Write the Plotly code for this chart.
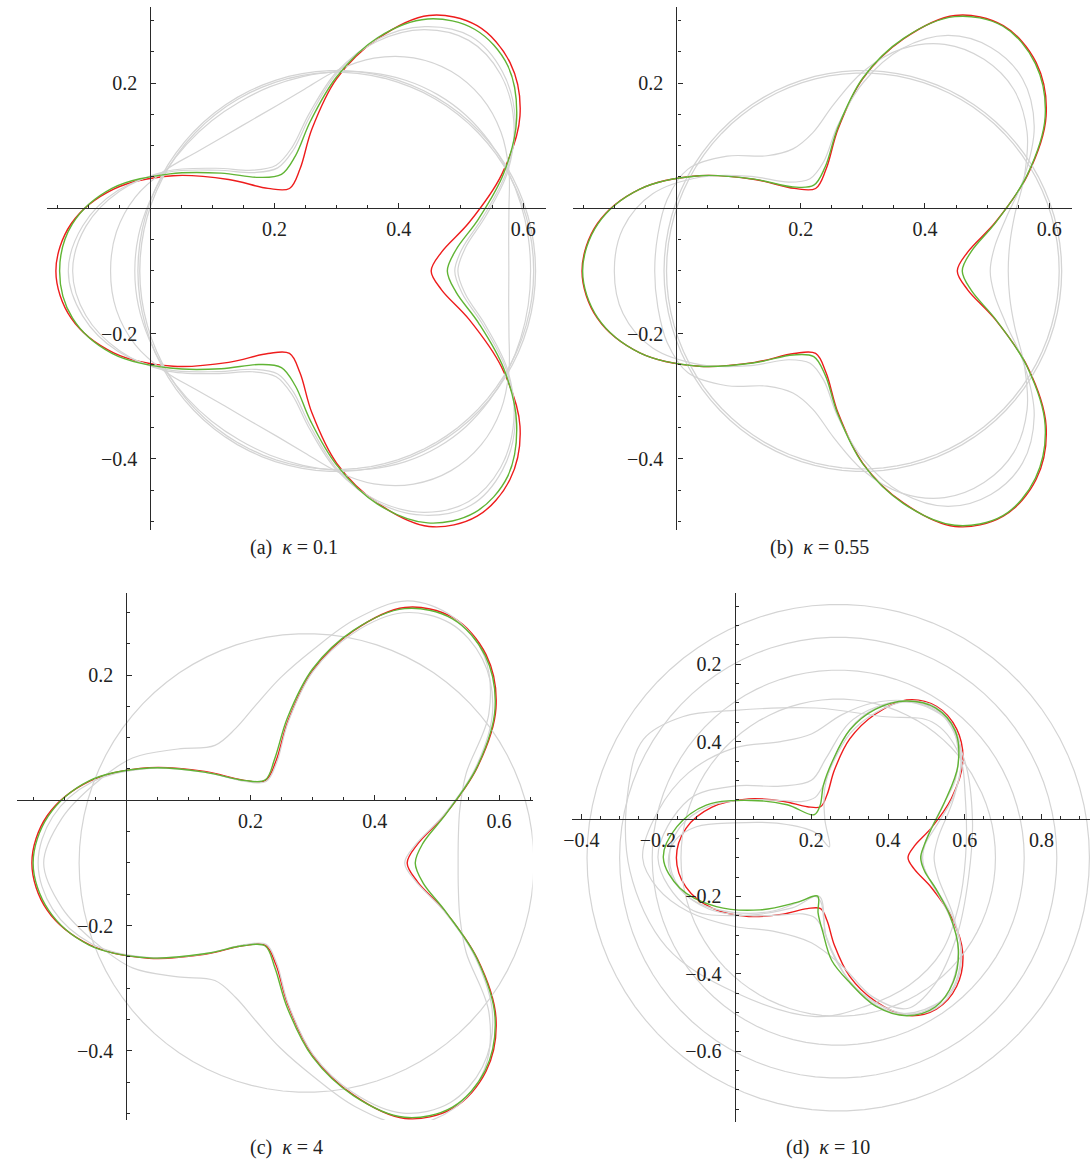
import numpy as np
import plotly.graph_objects as go

W, H = 1092, 1164

# ---------------- data ----------------
# closed trefoil-like curves: radii (data units) at these angles around CENTRE
ANGLES = list(range(0, 360, 10))
CENTRE = (0.30, -0.10)

RED_R = [0.152, 0.171, 0.227, 0.306, 0.385, 0.434, 0.452, 0.434, 0.376, 0.307, 0.230, 0.173,
         0.152, 0.172, 0.227, 0.304, 0.382, 0.434, 0.452, 0.434, 0.382, 0.304, 0.227, 0.172,
         0.152, 0.173, 0.230, 0.307, 0.376, 0.434, 0.452, 0.434, 0.385, 0.306, 0.227, 0.171]

GREEN_A_R = [0.178, 0.195, 0.243, 0.310, 0.378, 0.428, 0.445, 0.428, 0.378, 0.310, 0.243, 0.195,
             0.178, 0.195, 0.243, 0.310, 0.385, 0.432, 0.446, 0.432, 0.385, 0.310, 0.243, 0.195,
             0.178, 0.195, 0.243, 0.310, 0.378, 0.428, 0.445, 0.428, 0.378, 0.310, 0.243, 0.195]
GREEN_B_R = [0.160, 0.177, 0.228, 0.305, 0.383, 0.432, 0.451, 0.432, 0.377, 0.308, 0.232, 0.177,
             0.158, 0.175, 0.228, 0.304, 0.382, 0.433, 0.451, 0.433, 0.382, 0.304, 0.228, 0.175,
             0.158, 0.177, 0.232, 0.308, 0.377, 0.432, 0.451, 0.432, 0.383, 0.305, 0.228, 0.177]
GREEN_C_R = [0.165, 0.180, 0.228, 0.305, 0.383, 0.432, 0.450, 0.432, 0.377, 0.310, 0.235, 0.178,
             0.153, 0.172, 0.225, 0.303, 0.383, 0.432, 0.450, 0.432, 0.383, 0.303, 0.225, 0.172,
             0.153, 0.178, 0.235, 0.310, 0.377, 0.432, 0.450, 0.432, 0.383, 0.305, 0.228, 0.180]
GREEN_D_R = [0.185, 0.198, 0.228, 0.285, 0.368, 0.428, 0.447, 0.431, 0.390, 0.330, 0.255, 0.200,
             0.155, 0.145, 0.213, 0.296, 0.398, 0.458, 0.486, 0.450, 0.370, 0.270, 0.180, 0.130,
             0.165, 0.205, 0.270, 0.323, 0.390, 0.435, 0.446, 0.420, 0.370, 0.302, 0.240, 0.198]

# grey iterates, panel (a)
GREY_A = [
    [0.190, 0.205, 0.250, 0.315, 0.375, 0.415, 0.432, 0.415, 0.375, 0.315, 0.250, 0.205,
     0.190, 0.205, 0.250, 0.315, 0.375, 0.415, 0.432, 0.415, 0.375, 0.315, 0.250, 0.205,
     0.190, 0.205, 0.250, 0.315, 0.375, 0.415, 0.432, 0.415, 0.375, 0.315, 0.250, 0.205],
    [0.195, 0.210, 0.255, 0.318, 0.372, 0.410, 0.425, 0.410, 0.372, 0.318, 0.255, 0.210,
     0.195, 0.210, 0.255, 0.318, 0.372, 0.410, 0.425, 0.410, 0.372, 0.318, 0.255, 0.210,
     0.195, 0.210, 0.255, 0.318, 0.372, 0.410, 0.425, 0.410, 0.372, 0.318, 0.255, 0.210],
    [0.277, 0.281, 0.295, 0.320, 0.345, 0.362, 0.368, 0.362, 0.345, 0.320, 0.295, 0.281,
     0.277, 0.281, 0.295, 0.320, 0.345, 0.360, 0.364, 0.360, 0.345, 0.320, 0.295, 0.281,
     0.277, 0.281, 0.295, 0.320, 0.345, 0.362, 0.368, 0.362, 0.345, 0.320, 0.295, 0.281],
    [0.312, 0.313, 0.315, 0.318, 0.321, 0.324, 0.325, 0.324, 0.321, 0.318, 0.315, 0.313,
     0.312, 0.313, 0.315, 0.318, 0.321, 0.324, 0.325, 0.324, 0.321, 0.318, 0.315, 0.313,
     0.312, 0.313, 0.315, 0.318, 0.321, 0.324, 0.325, 0.324, 0.321, 0.318, 0.315, 0.313],
]
CIRCLES_A = [0.320, 0.317]

# grey iterates, panel (b)
GREY_B = [
    [0.205, 0.215, 0.245, 0.300, 0.360, 0.400, 0.412, 0.400, 0.360, 0.300, 0.235, 0.185,
     0.170, 0.185, 0.235, 0.300, 0.360, 0.392, 0.400, 0.392, 0.360, 0.300, 0.235, 0.185,
     0.170, 0.185, 0.235, 0.300, 0.360, 0.400, 0.412, 0.400, 0.360, 0.300, 0.245, 0.215],
    [0.234, 0.240, 0.260, 0.300, 0.345, 0.378, 0.390, 0.385, 0.360, 0.318, 0.270, 0.235,
     0.225, 0.240, 0.285, 0.325, 0.335, 0.335, 0.335, 0.335, 0.335, 0.325, 0.285, 0.240,
     0.225, 0.235, 0.270, 0.318, 0.360, 0.385, 0.390, 0.378, 0.345, 0.300, 0.260, 0.240],
]
CIRCLES_B = [0.320, 0.316]

# grey iterates, panel (c)
GREY_C = [
    [0.234, 0.238, 0.252, 0.285, 0.370, 0.430, 0.453, 0.445, 0.395, 0.340, 0.300, 0.268,
     0.248, 0.245, 0.283, 0.335, 0.372, 0.410, 0.433, 0.410, 0.372, 0.335, 0.283, 0.245,
     0.248, 0.268, 0.300, 0.340, 0.395, 0.445, 0.453, 0.430, 0.370, 0.285, 0.252, 0.238],
    [0.148, 0.168, 0.225, 0.302, 0.378, 0.425, 0.442, 0.425, 0.372, 0.305, 0.228, 0.170,
     0.150, 0.170, 0.225, 0.302, 0.378, 0.425, 0.442, 0.425, 0.378, 0.302, 0.225, 0.170,
     0.150, 0.170, 0.228, 0.305, 0.372, 0.425, 0.442, 0.425, 0.378, 0.302, 0.225, 0.168],
]
CIRCLE_C_CENTRE = (0.29, -0.10)
CIRCLES_C = [0.366]

# grey iterates, panel (d)
CIRCLE_D_CENTRE = (0.27, -0.10)
CIRCLES_D = [0.655, 0.570, 0.485, 0.410]
GREY_D_POLAR = [
    [0.19, 0.20, 0.24, 0.31, 0.38, 0.43, 0.45, 0.43, 0.38, 0.32, 0.25, 0.20,
     0.18, 0.19, 0.23, 0.30, 0.39, 0.45, 0.47, 0.45, 0.39, 0.30, 0.23, 0.19,
     0.18, 0.20, 0.25, 0.32, 0.38, 0.43, 0.45, 0.43, 0.38, 0.31, 0.24, 0.20],
]
GREY_D_XY = [
    ([-0.277, -0.238, -0.134, 0.000, 0.212, 0.385, 0.515, 0.584, 0.602, 0.602, 0.584, 0.541,
      0.455, 0.342, 0.212, 0.000, -0.177, -0.273],
     [0.081, 0.206, 0.265, 0.281, 0.287, 0.265, 0.251, 0.170, 0.045, -0.099, -0.224, -0.341,
      -0.430, -0.484, -0.511, -0.448, -0.332, -0.135]),
    ([-0.240, -0.200, -0.120, 0.000, 0.120, 0.200, 0.280, 0.360, 0.450, 0.540, 0.600, 0.620,
      0.610, 0.580, 0.520, 0.450, 0.360, 0.280, 0.200, 0.100, 0.000, -0.120, -0.200],
     [-0.100, 0.020, 0.120, 0.184, 0.200, 0.220, 0.270, 0.300, 0.305, 0.270, 0.150, 0.000,
      -0.150, -0.300, -0.430, -0.490, -0.460, -0.380, -0.320, -0.290, -0.278, -0.240, -0.180]),
    ([-0.200, -0.120, 0.000, 0.120, 0.200, 0.240, 0.300, 0.400, 0.470, 0.560, 0.590, 0.570,
      0.530, 0.520, 0.530, 0.570, 0.590, 0.560, 0.470, 0.380, 0.300, 0.240, 0.220, 0.150,
      0.000, -0.120],
     [-0.100, 0.050, 0.085, 0.085, 0.100, 0.160, 0.250, 0.300, 0.300, 0.250, 0.150, 0.050,
      -0.050, -0.100, -0.150, -0.250, -0.350, -0.450, -0.500, -0.490, -0.420, -0.310, -0.200,
      -0.230, -0.250, -0.230]),
    ([0.247, 0.210, 0.120, 0.000, -0.100, -0.155, -0.173, -0.155, -0.100, 0.000, 0.100, 0.180,
      0.210, 0.225, 0.240, 0.300, 0.385, 0.463, 0.540, 0.575, 0.580, 0.555, 0.505, 0.487,
      0.505, 0.540, 0.575, 0.583, 0.566, 0.524, 0.446, 0.385, 0.316, 0.265, 0.235, 0.235],
     [-0.072, -0.035, -0.012, -0.010, -0.020, -0.055, -0.108, -0.165, -0.215, -0.242, -0.238,
      -0.210, -0.200, -0.215, -0.310, -0.420, -0.490, -0.505, -0.470, -0.400, -0.310, -0.240,
      -0.150, -0.100, -0.040, 0.030, 0.100, 0.170, 0.240, 0.285, 0.303, 0.294, 0.250, 0.170,
      0.080, 0.000]),
]

CAPTIONS = ["(a)&#160;&#160;<i>κ</i> = 0.1", "(b)&#160;&#160;<i>κ</i> = 0.55",
            "(c)&#160;&#160;<i>κ</i> = 4", "(d)&#160;&#160;<i>κ</i> = 10"]

TICKS = {
    "a": dict(x=[0.2, 0.4, 0.6], xt=["0.2", "0.4", "0.6"],
              y=[0.2, -0.2, -0.4], yt=["0.2", "\u22120.2", "\u22120.4"]),
    "b": dict(x=[0.2, 0.4, 0.6], xt=["0.2", "0.4", "0.6"],
              y=[0.2, -0.2, -0.4], yt=["0.2", "\u22120.2", "\u22120.4"]),
    "c": dict(x=[0.2, 0.4, 0.6], xt=["0.2", "0.4", "0.6"],
              y=[0.2, -0.2, -0.4], yt=["0.2", "\u22120.2", "\u22120.4"]),
    "d": dict(x=[-0.4, -0.2, 0.2, 0.4, 0.6, 0.8], xt=["\u22120.4", "\u22120.2", "0.2", "0.4", "0.6", "0.8"],
              y=[0.4, 0.2, -0.2, -0.4, -0.6], yt=["0.2", "0.4", "\u22120.2", "\u22120.4", "\u22120.6"]),
}

# ---------------- layout geometry (pixels) ----------------
PANELS = {
    "a": dict(ox=142.5, oy=208.3, s=626.5, x0=38, x1=541, y0=6.7, y1=530, cap=(287, 547)),
    "b": dict(ox=673.0, oy=208.3, s=626.5, x0=568.5, x1=1071.5, y0=6.7, y1=530, cap=(817, 547)),
    "c": dict(ox=118.3, oy=800.3, s=626.5, x0=8, x1=528, y0=593.3, y1=1120, cap=(280, 1147)),
    "d": dict(ox=731.7, oy=819.0, s=386.7, x0=568, x1=1090, y0=593.3, y1=1121.7, cap=(826, 1147)),
}

GREY = "rgb(212,212,212)"
RED = "rgb(238,28,28)"
GREEN = "rgb(96,180,52)"
AXC = "#2a2a2a"
FONT = "Liberation Serif"


def polar_curve(centre, radii):
    th = np.deg2rad(np.array(ANGLES + [ANGLES[0] + 360], dtype=float))
    r = np.array(list(radii) + [radii[0]], dtype=float)
    return centre[0] + r * np.cos(th), centre[1] + r * np.sin(th)


def circle(centre, rad):
    th = np.deg2rad(np.arange(0, 361, 4))
    return centre[0] + rad * np.cos(th), centre[1] + rad * np.sin(th)


fig = go.Figure()
keys = ["a", "b", "c", "d"]


def add(xs, ys, k, color, width, spline=True):
    i = keys.index(k) + 1
    fig.add_trace(go.Scatter(
        x=list(xs), y=list(ys), mode="lines",
        line=dict(color=color, width=width, shape="spline" if spline else "linear", smoothing=1.0),
        xaxis="x" if i == 1 else f"x{i}", yaxis="y" if i == 1 else f"y{i}",
        hoverinfo="skip", showlegend=False))


greens = {"a": GREEN_A_R, "b": GREEN_B_R, "c": GREEN_C_R, "d": GREEN_D_R}
greys = {"a": GREY_A, "b": GREY_B, "c": GREY_C, "d": GREY_D_POLAR}

for k in keys:
    x, y = polar_curve(CENTRE, RED_R)
    add(x, y, k, RED, 1.4)
    if k == "a":
        for rr in CIRCLES_A:
            add(*circle(CENTRE, rr), k, GREY, 1.3, spline=False)
    if k == "b":
        for rr in CIRCLES_B:
            add(*circle(CENTRE, rr), k, GREY, 1.3, spline=False)
    if k == "c":
        for rr in CIRCLES_C:
            add(*circle(CIRCLE_C_CENTRE, rr), k, GREY, 1.2, spline=False)
    if k == "d":
        for rr in CIRCLES_D:
            add(*circle(CIRCLE_D_CENTRE, rr), k, GREY, 1.2, spline=False)
        for gx, gy in GREY_D_XY:
            add(gx + [gx[0]], gy + [gy[0]], k, GREY, 1.2)
    for g in greys[k]:
        x, y = polar_curve(CENTRE, g)
        add(x, y, k, GREY, 1.2)
    x, y = polar_curve(CENTRE, greens[k])
    add(x, y, k, GREEN, 1.4)

layout = dict(width=W, height=H, margin=dict(l=0, r=0, t=0, b=0),
              paper_bgcolor="white", plot_bgcolor="rgba(0,0,0,0)", showlegend=False)
annotations = []
for i, k in enumerate(keys, start=1):
    p = PANELS[k]
    s = p["s"]
    xr = [(p["x0"] - p["ox"]) / s, (p["x1"] - p["ox"]) / s]
    yr = [(p["oy"] - p["y1"]) / s, (p["oy"] - p["y0"]) / s]
    step = 0.05
    xminor = [round(v, 2) for v in np.arange(np.ceil(xr[0] / step) * step, xr[1], step)
              if abs(v) > 1e-6 and all(abs(v - t) > 1e-6 for t in TICKS[k]["x"])]
    yminor = [round(v, 2) for v in np.arange(np.ceil(yr[0] / step) * step, yr[1], step)
              if abs(v) > 1e-6 and all(abs(v - t) > 1e-6 for t in TICKS[k]["y"])]
    common = dict(showgrid=False, zeroline=False, showline=True, linecolor=AXC, linewidth=1.3,
                  tickmode="array", ticks="inside", ticklen=5, tickwidth=1, tickcolor=AXC,
                  tickfont=dict(family=FONT, size=20, color="#222"), fixedrange=True)
    xa = dict(domain=[p["x0"] / W, p["x1"] / W], range=xr, anchor="free",
              position=1 - p["oy"] / H,
              tickvals=TICKS[k]["x"], ticktext=TICKS[k]["xt"], ticklabelstandoff=3,
              minor=dict(tickmode="array", tickvals=xminor, ticks="inside", ticklen=3,
                         tickwidth=1, tickcolor=AXC), **common)
    ya = dict(domain=[1 - p["y1"] / H, 1 - p["y0"] / H], range=yr, anchor="free",
              position=p["ox"] / W,
              tickvals=TICKS[k]["y"], ticktext=TICKS[k]["yt"], ticklabelstandoff=9,
              minor=dict(tickmode="array", tickvals=yminor, ticks="inside", ticklen=3,
                         tickwidth=1, tickcolor=AXC), **common)
    layout["xaxis" if i == 1 else f"xaxis{i}"] = xa
    layout["yaxis" if i == 1 else f"yaxis{i}"] = ya
    annotations.append(dict(text=CAPTIONS[i - 1], xref="paper", yref="paper",
                            x=p["cap"][0] / W, y=1 - p["cap"][1] / H, showarrow=False,
                            xanchor="center", yanchor="middle",
                            font=dict(family=FONT, size=20, color="#222")))
layout["annotations"] = annotations
fig.update_layout(**layout)
fig.write_html("out.html")
